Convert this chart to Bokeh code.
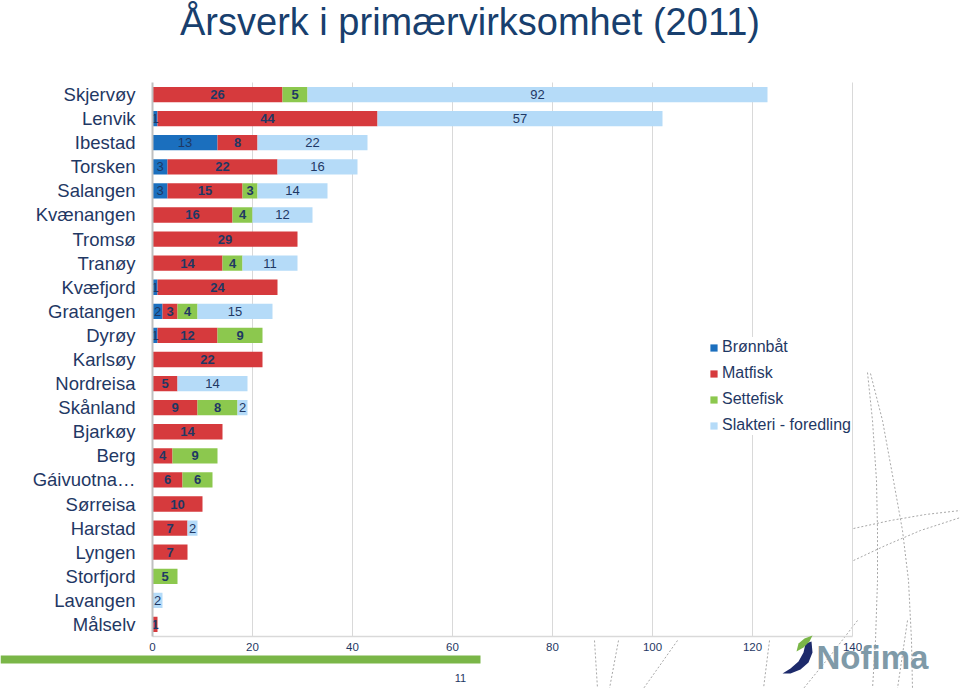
from bokeh.plotting import figure
from bokeh.models import (ColumnDataSource, Range1d, FixedTicker, Label,
                          BoxAnnotation, PolyAnnotation, Legend, LegendItem)
from bokeh.core.properties import value
from bokeh.embed import file_html
from bokeh.resources import INLINE

# ---------------- data ----------------
municipalities = ["Skjervøy", "Lenvik", "Ibestad", "Torsken", "Salangen", "Kvænangen",
                  "Tromsø", "Tranøy", "Kvæfjord", "Gratangen", "Dyrøy", "Karlsøy",
                  "Nordreisa", "Skånland", "Bjarkøy", "Berg", "Gáivuotna…", "Sørreisa",
                  "Harstad", "Lyngen", "Storfjord", "Lavangen", "Målselv"]
bronnbat = [0, 1, 13, 3, 3, 0, 0, 0, 1, 2, 1, 0, 0, 0, 0, 0, 0, 0, 0, 0, 0, 0, 0]
matfisk = [26, 44, 8, 22, 15, 16, 29, 14, 24, 3, 12, 22, 5, 9, 14, 4, 6, 10, 7, 7, 0, 0, 1]
settefisk = [5, 0, 0, 0, 3, 4, 0, 4, 0, 4, 9, 0, 0, 8, 0, 9, 6, 0, 0, 0, 5, 0, 0]
slakteri = [92, 57, 22, 16, 14, 12, 0, 11, 0, 15, 0, 0, 14, 2, 0, 0, 0, 0, 2, 0, 0, 2, 0]
series_names = ["Brønnbåt", "Matfisk", "Settefisk", "Slakteri - foredling"]
x_ticks = [0, 20, 40, 60, 80, 100, 120, 140]
title_text = "Årsverk i primærvirksomhet (2011)"
footer_number = "11"
logo_text = "Nofima"

# ---------------- style ----------------
colors = ["#1b6fbe", "#d63a3d", "#8cc84e", "#b5dbf8"]
label_bold = ["normal", "bold", "bold", "normal"]
FONT = "Liberation Sans"
TXT = "#1f3864"

W, H = 960, 688
n = len(municipalities)
rows = list(range(n))                     # row position of each category (top = 0)
PX_X = 5.0                                 # pixels per value unit
PITCH = 24.087                             # pixels per row
X0, Y0 = 152, 82                           # page position of value 0 / top of rows


def pg(px, py):
    """page pixel -> data coordinates (for slide decorations only)"""
    return (px - X0) / PX_X, -0.5 + (py - Y0) / PITCH


x_lo, y_top = pg(0, 0)
x_hi, y_bot = pg(W, H)

p = figure(width=W, height=H, output_backend="svg", toolbar_location=None,
           x_range=Range1d(x_lo, x_hi), y_range=Range1d(y_bot, y_top),
           min_border_left=0, min_border_right=0, min_border_top=0,
           min_border_bottom=0)
p.outline_line_color = None
p.background_fill_color = "white"
p.border_fill_color = "white"
p.xgrid.grid_line_color = None
p.ygrid.grid_line_color = None

# axes drawn at fixed data locations
p.xaxis.fixed_location = n - 0.5
p.xaxis.bounds = (x_ticks[0], x_ticks[-1])
p.xaxis.ticker = FixedTicker(ticks=x_ticks)
p.xaxis.axis_line_color = "#d9d9d9"
p.xaxis.axis_line_width = 1.5
p.xaxis.major_tick_line_color = None
p.xaxis.minor_tick_line_color = None
p.xaxis.major_tick_out = 0
p.xaxis.major_label_standoff = 6
p.xaxis.major_label_text_font = FONT
p.xaxis.major_label_text_font_size = "11.5px"
p.xaxis.major_label_text_color = TXT

p.yaxis.fixed_location = 0
p.yaxis.bounds = (-0.5, n - 0.5)
p.yaxis.ticker = FixedTicker(ticks=rows)
p.yaxis.major_label_overrides = {r: name for r, name in zip(rows, municipalities)}
p.yaxis.axis_line_color = "#c0c0c0"
p.yaxis.axis_line_width = 2
p.yaxis.major_tick_line_color = None
p.yaxis.minor_tick_line_color = None
p.yaxis.major_tick_out = 0
p.yaxis.major_label_standoff = 17
p.yaxis.major_label_text_font = FONT
p.yaxis.major_label_text_font_size = "18.5px"
p.yaxis.major_label_text_color = TXT

# decorative dashed background curves (slide background)
curves = [
    [(867, 372), (872, 420), (876, 480), (877, 530), (877, 580), (875, 640), (872, 688)],
    [(870, 373), (882, 420), (893, 480), (902, 530), (908, 580), (911, 640), (912, 688)],
    [(853, 528), (890, 520), (925, 514), (960, 510)],
    [(853, 560), (885, 545), (920, 530), (960, 517)],
    [(594, 640), (597, 688)],
    [(618, 640), (609, 688)],
    [(677, 640), (643, 688)],
    [(769, 640), (763, 688)],
    [(857, 620), (830, 655), (803, 688)],
    [(907, 620), (897, 688)],
]
for c in curves:
    xs = [pg(a, b)[0] for a, b in c]
    ys = [pg(a, b)[1] for a, b in c]
    p.line(xs, ys, line_color="#a8a8a8", line_width=1, line_dash="2 2")

# vertical gridlines limited to the rows area
p.segment(x0=x_ticks[1:], x1=x_ticks[1:], y0=[-0.5] * (len(x_ticks) - 1),
          y1=[n - 0.5] * (len(x_ticks) - 1), line_color="#d9d9d9", line_width=1)

# stacked bars
src = ColumnDataSource(dict(row=rows, b=bronnbat, m=matfisk, s=settefisk, sl=slakteri))
rends = p.hbar_stack(["b", "m", "s", "sl"], y="row", height=0.635,
                     color=colors, line_width=0, source=src)

# labels on segments
series = [bronnbat, matfisk, settefisk, slakteri]
starts = [0] * n
for k, vals in enumerate(series):
    xs, ys, tx = [], [], []
    for i, v in enumerate(vals):
        if v > 0:
            xs.append(starts[i] + v / 2.0)
            ys.append(rows[i])
            tx.append(str(v))
        starts[i] += v
    ts = ColumnDataSource(dict(x=xs, y=ys, t=tx))
    p.text(x="x", y="y", text="t", source=ts, text_align="center",
           text_baseline="middle", text_font=value(FONT),
           text_font_size="13px", text_font_style=label_bold[k],
           text_color=TXT)

# legend (location in px from the frame's bottom-left corner)
items = [LegendItem(label=series_names[k], renderers=[rends[k]]) for k in range(4)]
legend = Legend(items=items, location=(709, 253), orientation="vertical",
                label_text_font=FONT, label_text_font_size="16px",
                label_text_color=TXT, glyph_width=9, glyph_height=9,
                label_height=20, spacing=6, padding=3, margin=0,
                label_standoff=4, border_line_color=None,
                background_fill_color="white", background_fill_alpha=1)
p.add_layout(legend, "center")

# title
tx0, ty0 = pg(469.5, 21)
p.add_layout(Label(x=tx0, y=ty0, text=title_text, text_align="center",
                   text_baseline="middle", text_font=FONT,
                   text_font_size="38px", text_color="#183f6e"))

# footer decorations (slide)
l0, t0 = pg(0, 655)
r0, b0 = pg(480, 663)
p.add_layout(BoxAnnotation(left=l0, right=r0, top=t0, bottom=b0,
                           fill_color="#7ab648", fill_alpha=1, line_color=None))
fx, fy = pg(460, 677)
p.add_layout(Label(x=fx, y=fy, text=footer_number, text_align="center",
                   text_baseline="middle", text_font=FONT,
                   text_font_size="11px", text_color=TXT))

# Nofima logo
crescent = [(811, 641), (812, 652), (808, 662), (800, 669), (790, 673), (782, 673),
            (790, 668), (798, 661), (803, 652), (805, 643)]
leaf = [(796, 651), (798, 643), (804, 638), (812, 635), (809, 641), (803, 647)]
p.add_layout(PolyAnnotation(xs=[pg(a, b)[0] for a, b in crescent],
                            ys=[pg(a, b)[1] for a, b in crescent],
                            fill_color="#1d2a6b", fill_alpha=1, line_color=None))
p.add_layout(PolyAnnotation(xs=[pg(a, b)[0] for a, b in leaf],
                            ys=[pg(a, b)[1] for a, b in leaf],
                            fill_color="#7ab648", fill_alpha=1, line_color=None))
lx, ly = pg(816, 657)
p.add_layout(Label(x=lx, y=ly, text=logo_text, text_align="left",
                   text_baseline="middle", text_font=FONT,
                   text_font_size="33px", text_font_style="bold",
                   text_color="#7f9aa8"))

open("out.html", "w").write(file_html(p, INLINE))
